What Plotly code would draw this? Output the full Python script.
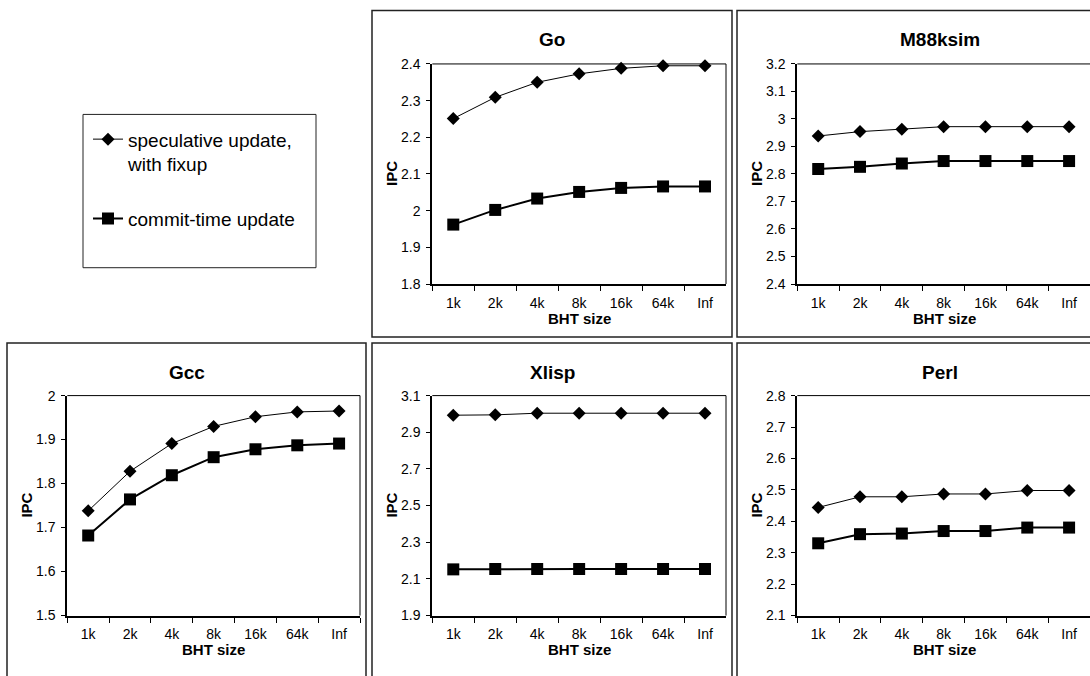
import plotly.graph_objects as go

# ---------------- data ----------------
categories = ["1k", "2k", "4k", "8k", "16k", "64k", "Inf"]

go_spec = [2.251, 2.309, 2.350, 2.373, 2.388, 2.395, 2.395]
go_commit = [1.962, 2.002, 2.033, 2.051, 2.062, 2.066, 2.066]

m88_spec = [2.938, 2.954, 2.963, 2.972, 2.972, 2.972, 2.972]
m88_commit = [2.818, 2.826, 2.838, 2.847, 2.847, 2.847, 2.847]

gcc_spec = [1.738, 1.828, 1.891, 1.930, 1.952, 1.963, 1.965]
gcc_commit = [1.682, 1.764, 1.819, 1.860, 1.878, 1.887, 1.891]

xlisp_spec = [2.993, 2.995, 3.004, 3.004, 3.004, 3.004, 3.004]
xlisp_commit = [2.152, 2.154, 2.154, 2.154, 2.154, 2.154, 2.154]

perl_spec = [2.444, 2.478, 2.478, 2.487, 2.487, 2.498, 2.498]
perl_commit = [2.330, 2.359, 2.361, 2.369, 2.369, 2.380, 2.380]

panel_titles = ["Go", "M88ksim", "Gcc", "Xlisp", "Perl"]
y_ranges = [[1.8, 2.4], [2.4, 3.2], [1.5, 2.0], [1.9, 3.1], [2.1, 2.8]]
y_dticks = [0.1, 0.1, 0.1, 0.2, 0.1]

series_names = ["speculative update,<br>with fixup", "commit-time update"]
x_title = "BHT size"
y_title = "IPC"

spec_values = [go_spec, m88_spec, gcc_spec, xlisp_spec, perl_spec]
commit_values = [go_commit, m88_commit, gcc_commit, xlisp_commit, perl_commit]

# ---------------- layout geometry (pixels) ----------------
W, H = 1090, 676
FONT = "Liberation Sans, Arial, Helvetica, sans-serif"

# (row, col) of each panel
grid_pos = [(0, 1), (0, 2), (1, 0), (1, 1), (1, 2)]
col_plot = [(67.3, 360.0), (432.3, 726.0), (797.3, 1091.0)]
row_plot = [(57.3, 282.7), (397.0, 622.3)]
col_frame = [(7, 366), (372, 732), (737, 1098)]
row_frame = [(2.5, 337), (343, 690)]


def px_x(v):
    return v / W


def px_y(v):
    return 1 - v / H


fig = go.Figure()
layout = dict(
    width=W, height=H,
    margin=dict(l=0, r=0, t=0, b=0),
    paper_bgcolor="white", plot_bgcolor="white",
    font=dict(family=FONT, color="black", size=14),
    showlegend=True,
    shapes=[], annotations=[],
)

for i, (title, spec, commit, yr, dt, (r, c)) in enumerate(
        zip(panel_titles, spec_values, commit_values, y_ranges, y_dticks, grid_pos)):
    n = i + 1
    xa = "x" if n == 1 else f"x{n}"
    ya = "y" if n == 1 else f"y{n}"
    xl, xr = col_plot[c]
    yt, yb = row_plot[r]

    fig.add_trace(go.Scatter(
        x=categories, y=spec, xaxis=xa, yaxis=ya, mode="lines+markers",
        name=series_names[0], legendgroup="spec", showlegend=(n == 1),
        line=dict(color="black", width=1),
        marker=dict(symbol="diamond", size=10, color="black"),
        cliponaxis=False,
    ))
    fig.add_trace(go.Scatter(
        x=categories, y=commit, xaxis=xa, yaxis=ya, mode="lines+markers",
        name=series_names[1], legendgroup="commit", showlegend=(n == 1),
        line=dict(color="black", width=2),
        marker=dict(symbol="square", size=12, color="black"),
        cliponaxis=False,
    ))

    key_x = "xaxis" if n == 1 else f"xaxis{n}"
    key_y = "yaxis" if n == 1 else f"yaxis{n}"
    layout[key_x] = dict(
        type="category", categoryorder="array", categoryarray=categories,
        range=[-0.5, len(categories) - 0.5],
        domain=[px_x(xl), min(1.0, px_x(xr))], anchor=ya,
        showline=True, linecolor="black", linewidth=2, mirror=False,
        ticks="outside", tickson="boundaries", ticklen=5, tickwidth=1,
        tickcolor="black", tickfont=dict(size=14, family=FONT),
        ticklabelstandoff=5,
        showgrid=False, zeroline=False, fixedrange=True,
    )
    layout[key_y] = dict(
        range=yr, tick0=yr[0], dtick=dt,
        domain=[px_y(yb), px_y(yt)], anchor=xa,
        showline=True, linecolor="black", linewidth=2, mirror=False,
        ticks="outside", ticklen=4, tickwidth=1, tickcolor="black",
        tickfont=dict(size=14, family=FONT),
        ticklabelstandoff=3,
        showgrid=False, zeroline=False, fixedrange=True,
    )

    # plot-area border (top and right)
    xref_d = f"{xa} domain"
    yref_d = f"{ya} domain"
    layout["shapes"].append(dict(type="line", xref=xref_d, yref=yref_d,
                                 x0=0, x1=1, y0=1, y1=1,
                                 line=dict(color="black", width=1)))
    if c < 2:
        layout["shapes"].append(dict(type="line", xref=xref_d, yref=yref_d,
                                     x0=1, x1=1, y0=0, y1=1,
                                     line=dict(color="black", width=1)))

    # panel frame
    fl, fr = col_frame[c]
    ft, fb = row_frame[r]
    layout["shapes"].append(dict(type="rect", xref="paper", yref="paper",
                                 x0=px_x(fl), x1=px_x(fr), y0=px_y(fb), y1=px_y(ft),
                                 line=dict(color="#222222", width=1.5),
                                 fillcolor="rgba(0,0,0,0)", layer="below"))

    # texts
    layout["annotations"].append(dict(
        text=f"<b>{title}</b>", xref="paper", yref="paper",
        x=px_x((fl + fr) / 2 if c < 2 else (xl + xr) / 2 - 4),
        y=px_y(ft + 30), showarrow=False,
        font=dict(size=19, family=FONT, color="black"),
        xanchor="center", yanchor="middle"))
    layout["annotations"].append(dict(
        text=f"<b>{x_title}</b>", xref="paper", yref="paper",
        x=px_x((xl + xr) / 2), y=px_y(yb + 35), showarrow=False,
        font=dict(size=15, family=FONT, color="black"),
        xanchor="center", yanchor="middle"))
    layout["annotations"].append(dict(
        text=f"<b>{y_title}</b>", xref="paper", yref="paper",
        x=px_x(fl + 20), y=px_y((yt + yb) / 2), showarrow=False,
        textangle=-90,
        font=dict(size=15, family=FONT, color="black"),
        xanchor="center", yanchor="middle"))

# legend box
layout["shapes"].append(dict(type="rect", xref="paper", yref="paper",
                             x0=px_x(83), x1=px_x(316), y0=px_y(266), y1=px_y(109),
                             line=dict(color="#222222", width=1),
                             fillcolor="rgba(0,0,0,0)", layer="below"))
layout["legend"] = dict(
    x=px_x(88), y=px_y(115), xanchor="left", yanchor="top",
    bgcolor="rgba(0,0,0,0)", borderwidth=0,
    font=dict(size=19, family=FONT, color="black"),
    traceorder="grouped", tracegroupgap=27, valign="top",
)

fig.update_layout(**layout)
fig.write_html("out.html", config={"displayModeBar": False},
               post_script="document.body.style.margin='0';")
